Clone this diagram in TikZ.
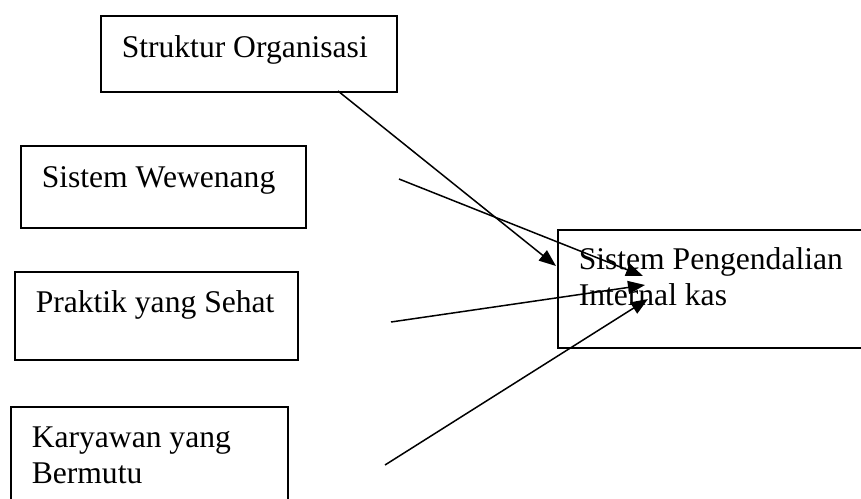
\documentclass[tikz,border=0pt]{standalone}
\usepackage{fontspec}
\setmainfont{Liberation Serif}
\usetikzlibrary{arrows.meta}

\tikzset{every picture/.style={line width=1.5pt}}
\tikzset{kotak/.style={draw, rectangle, anchor=north west, inner ysep=0pt, inner xsep=21pt, align=flush left, font=\fontsize{31.6}{36}\selectfont},
  panah/.style={-{Triangle[length=17pt,width=13pt]}}}

\begin{document}
\begin{tikzpicture}[x=1pt,y=1pt,yscale=-1,xscale=1]
    \useasboundingbox (0,0) rectangle (861,498);
    \node [kotak, text width=254pt, text height=42pt, text depth=34pt] (so) at (100,15) {Struktur Organisasi};
    \node [kotak, text width=243pt, text height=42pt, text depth=40pt] (sw) at (20,145) {Sistem Wewenang};
    \node [kotak, text width=241pt, text height=41pt, text depth=47pt] (ps) at (14,271) {Praktik yang Sehat};
    \node [kotak, text width=235pt, text height=41pt, text depth=80pt] (kb) at (10,406) {Karyawan yang\\Bermutu};
    \node [kotak, text width=298pt, text height=40pt, text depth=78pt] (spi) at (557,229) {Sistem Pengendalian\\Internal kas};
    \coordinate (so-a) at (338,91);
    \coordinate (so-b) at (556,266);
    \coordinate (sw-a) at (399,179);
    \coordinate (sw-b) at (643,276);
    \coordinate (ps-a) at (391,322);
    \coordinate (ps-b) at (645,285);
    \coordinate (kb-a) at (385,465);
    \coordinate (kb-b) at (648,299);
    \draw [panah] (so-a) -- (so-b);
    \draw [panah] (sw-a) -- (sw-b);
    \draw [panah] (ps-a) -- (ps-b);
    \draw [panah] (kb-a) -- (kb-b);
\end{tikzpicture}
\end{document}
